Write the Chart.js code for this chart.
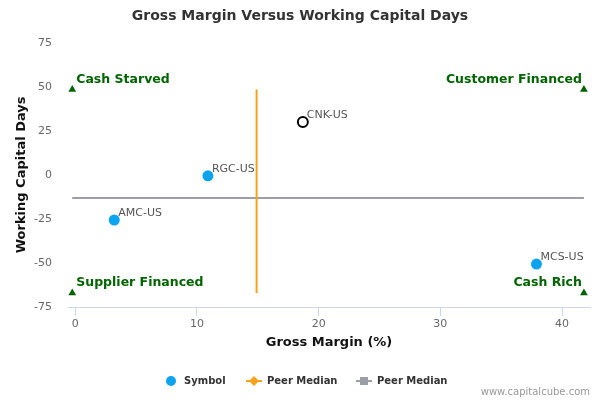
<!DOCTYPE html>
<html>
<head>
    <title>Gross Margin Versus Working Capital Days</title>
    <script src="https://cdn.jsdelivr.net/npm/chart.js"></script>
    <style>
        body { margin: 0; background: #fff; }
        canvas { display: block; }
    </style>
</head>
<body>
    <canvas id="wcChart" width="600" height="400"></canvas>

    <script>
        // peers
        const symbols = ['AMC-US', 'RGC-US', 'MCS-US'];
        const grossMargin = [3.2, 10.9, 37.9];
        const wcDays = [-25.6, -0.5, -50.6];

        // company in focus
        const focusSymbol = ['CNK-US'];
        const focusMargin = [18.7];
        const focusDays = [30];

        // peer medians
        const medianMargin = 14.9;
        const medianDays = -13.1;

        // quadrant corner markers
        const cornerX = [-0.25, 41.8];
        const cornerY = [48.5, -67];
        const quadrantLabels = ['Cash Starved', 'Customer Financed', 'Supplier Financed', 'Cash Rich'];

        const xTicks = [0, 10, 20, 30, 40];
        const yTicks = [-75, -50, -25, 0, 25, 50, 75];

        const FONT = "'DejaVu Sans', sans-serif";
        const BLUE = '#0ca3f0';
        const ORANGE = '#f7a21c';
        const GREY = '#9a9ea8';
        const GREEN = '#006400';

        const corners = [
            { x: cornerX[0], y: cornerY[0] },
            { x: cornerX[1], y: cornerY[0] },
            { x: cornerX[0], y: cornerY[1] },
            { x: cornerX[1], y: cornerY[1] }
        ];

        const labelPlugin = {
            id: 'labels',
            afterDatasetsDraw(chart) {
                const ctx = chart.ctx;
                ctx.save();
                // point labels
                ctx.font = '11px ' + FONT;
                ctx.fillStyle = '#555';
                ctx.textAlign = 'left';
                ctx.textBaseline = 'bottom';
                [[0, symbols], [1, focusSymbol]].forEach(([idx, names]) => {
                    chart.getDatasetMeta(idx).data.forEach((pt, i) => {
                        ctx.fillText(names[i], pt.x + 4, pt.y - 1);
                    });
                });
                // quadrant labels
                ctx.font = 'bold 12.5px ' + FONT;
                ctx.fillStyle = GREEN;
                ctx.textBaseline = 'middle';
                chart.getDatasetMeta(4).data.forEach((pt, i) => {
                    if (i % 2 === 0) {
                        ctx.textAlign = 'left';
                        ctx.fillText(quadrantLabels[i], pt.x + 4, pt.y - 10);
                    } else {
                        ctx.textAlign = 'right';
                        ctx.fillText(quadrantLabels[i], pt.x - 2, pt.y - 10);
                    }
                });
                ctx.restore();
            },
            afterDraw(chart) {
                const ctx = chart.ctx;
                ctx.save();
                const y = 381;
                ctx.font = 'bold 10px ' + FONT;
                ctx.fillStyle = '#333';
                ctx.textBaseline = 'middle';
                ctx.textAlign = 'left';
                // Symbol
                ctx.beginPath();
                ctx.arc(171, y, 5, 0, Math.PI * 2);
                ctx.fillStyle = BLUE;
                ctx.fill();
                ctx.fillStyle = '#333';
                ctx.fillText('Symbol', 184, y);
                // Peer Median (orange)
                ctx.strokeStyle = ORANGE;
                ctx.lineWidth = 2;
                ctx.beginPath();
                ctx.moveTo(246, y); ctx.lineTo(262, y); ctx.stroke();
                ctx.fillStyle = ORANGE;
                ctx.beginPath();
                ctx.moveTo(254, y - 5); ctx.lineTo(259, y); ctx.lineTo(254, y + 5); ctx.lineTo(249, y);
                ctx.closePath(); ctx.fill();
                ctx.fillStyle = '#333';
                ctx.fillText('Peer Median', 267, y);
                // Peer Median (grey)
                ctx.strokeStyle = GREY;
                ctx.beginPath();
                ctx.moveTo(356, y); ctx.lineTo(372, y); ctx.stroke();
                ctx.fillStyle = GREY;
                ctx.fillRect(360, y - 4, 8, 8);
                ctx.fillStyle = '#333';
                ctx.fillText('Peer Median', 377, y);
                // credits
                ctx.font = '10px ' + FONT;
                ctx.fillStyle = '#999';
                ctx.textAlign = 'right';
                ctx.fillText('www.capitalcube.com', 590, 392);
                ctx.restore();
            }
        };

        const ctx = document.getElementById('wcChart').getContext('2d');
        new Chart(ctx, {
            type: 'scatter',
            data: {
                datasets: [
                    {
                        label: 'Symbol',
                        data: symbols.map((s, i) => ({ x: grossMargin[i], y: wcDays[i] })),
                        backgroundColor: BLUE,
                        borderWidth: 0,
                        pointRadius: 5.5,
                        pointHoverRadius: 5.5
                    },
                    {
                        label: focusSymbol[0],
                        data: focusSymbol.map((s, i) => ({ x: focusMargin[i], y: focusDays[i] })),
                        backgroundColor: '#fff',
                        borderColor: '#000',
                        borderWidth: 2,
                        pointRadius: 5
                    },
                    {
                        label: 'Peer Median',
                        data: [{ x: medianMargin, y: cornerY[0] }, { x: medianMargin, y: cornerY[1] }],
                        showLine: true,
                        borderColor: ORANGE,
                        borderWidth: 2,
                        pointRadius: 0
                    },
                    {
                        label: 'Peer Median',
                        data: [{ x: cornerX[0], y: medianDays }, { x: cornerX[1], y: medianDays }],
                        showLine: true,
                        borderColor: GREY,
                        borderWidth: 2,
                        pointRadius: 0
                    },
                    {
                        label: 'Quadrants',
                        data: corners,
                        pointStyle: 'triangle',
                        backgroundColor: GREEN,
                        borderColor: GREEN,
                        borderWidth: 0,
                        pointRadius: 4.5
                    }
                ]
            },
            options: {
                responsive: false,
                animation: false,
                devicePixelRatio: 1,
                layout: { padding: { left: 10, right: 10, top: 0, bottom: 40 } },
                plugins: {
                    legend: { display: false },
                    tooltip: { enabled: false },
                    title: {
                        display: true,
                        text: 'Gross Margin Versus Working Capital Days',
                        color: '#333',
                        font: { family: FONT, size: 14, weight: 'bold' },
                        padding: { top: 8, bottom: 18 }
                    }
                },
                scales: {
                    x: {
                        min: -0.6,
                        max: 42.3,
                        afterBuildTicks: s => { s.ticks = xTicks.map(v => ({ value: v })); },
                        afterFit: s => { s.height = 53; },
                        grid: { display: true, drawOnChartArea: false, drawTicks: true, tickLength: 9, color: '#ccd6eb' },
                        border: { display: true, color: '#ccd6eb' },
                        ticks: { color: '#666', font: { family: FONT, size: 11 }, padding: 2 },
                        title: {
                            display: true,
                            text: 'Gross Margin (%)',
                            color: '#111',
                            font: { family: FONT, size: 13, weight: 'bold' },
                            padding: { top: 4, bottom: 10 }
                        }
                    },
                    y: {
                        min: -75,
                        max: 75,
                        afterBuildTicks: s => { s.ticks = yTicks.map(v => ({ value: v })); },
                        afterFit: s => { s.width = 58; },
                        grid: { display: false },
                        border: { display: false },
                        ticks: { color: '#666', font: { family: FONT, size: 11 }, padding: 8 },
                        title: {
                            display: true,
                            text: 'Working Capital Days',
                            color: '#111',
                            font: { family: FONT, size: 13, weight: 'bold' },
                            padding: { top: 4, bottom: 4 }
                        }
                    }
                }
            },
            plugins: [labelPlugin]
        });
    </script>
</body>
</html>
